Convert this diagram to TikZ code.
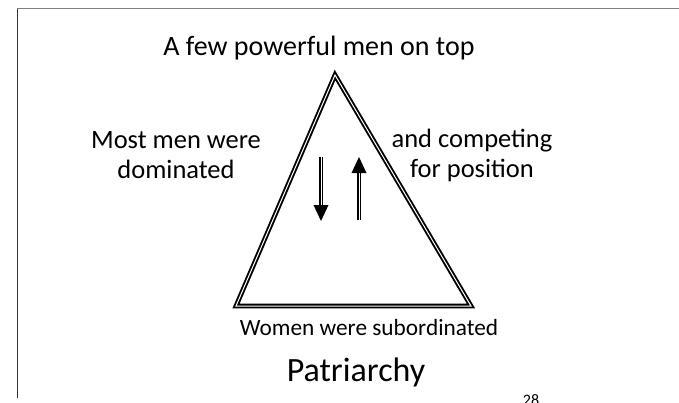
\documentclass[tikz,border=0pt]{standalone}
\usepackage{fontspec}
\setmainfont{Carlito}
\begin{document}
\begin{tikzpicture}[x=1pt,y=-1pt,
  lbl/.style={inner sep=0pt, align=center, text=black},
  tri/.style={draw=black, line width=1.9pt, double=white, double distance=1.0pt, line join=miter},
  shaft/.style={draw=black, line width=1.7pt, double=white, double distance=0.9pt},
  head/.style={fill=black, draw=none}]
\useasboundingbox (0,0) rectangle (679,402);
\fill[white] (0,0) rectangle (679,402);
% slide frame
\coordinate (fTL) at (17,8.5);
\coordinate (fTR) at (679,8.5);
\coordinate (fBL) at (17,398);
\draw[gray, line width=1.6pt] (fTL) -- (fTR);
\draw[black!80, line width=1pt] (fTL) -- (fBL);
% triangle
\coordinate (apex) at (335,75);
\coordinate (bl) at (236,306);
\coordinate (br) at (471,306);
\draw[tri] (apex) -- (br) -- (bl) -- cycle;
% down arrow
\coordinate (d1) at (321,157);
\coordinate (d2) at (321,206);
\draw[shaft] (d1) -- (d2);
\fill[head] (313.5,205) -- (328.5,205) -- (321,221) -- cycle;
% up arrow
\coordinate (u1) at (359,220);
\coordinate (u2) at (359,172);
\draw[shaft] (u1) -- (u2);
\fill[head] (351.5,173) -- (366.5,173) -- (359,157) -- cycle;
% labels
\node[lbl, font=\fontsize{28}{30}\selectfont] (top) at (319,48) {A few powerful men on top};
\node[lbl, font=\fontsize{26.5}{30}\selectfont] (left) at (176,155) {Most men were\\dominated};
\node[lbl, font=\fontsize{26.5}{30}\selectfont] (right) at (472,155) {and competing\\for position};
\node[lbl, font=\fontsize{23.3}{28}\selectfont] (bottom) at (369,327) {Women were subordinated};
\node[lbl, font=\fontsize{34}{36}\selectfont] (title) at (356,372) {Patriarchy};
\node[lbl, font=\fontsize{16}{18}\selectfont, anchor=north] (pg) at (531,394) {28};
\end{tikzpicture}
\end{document}
